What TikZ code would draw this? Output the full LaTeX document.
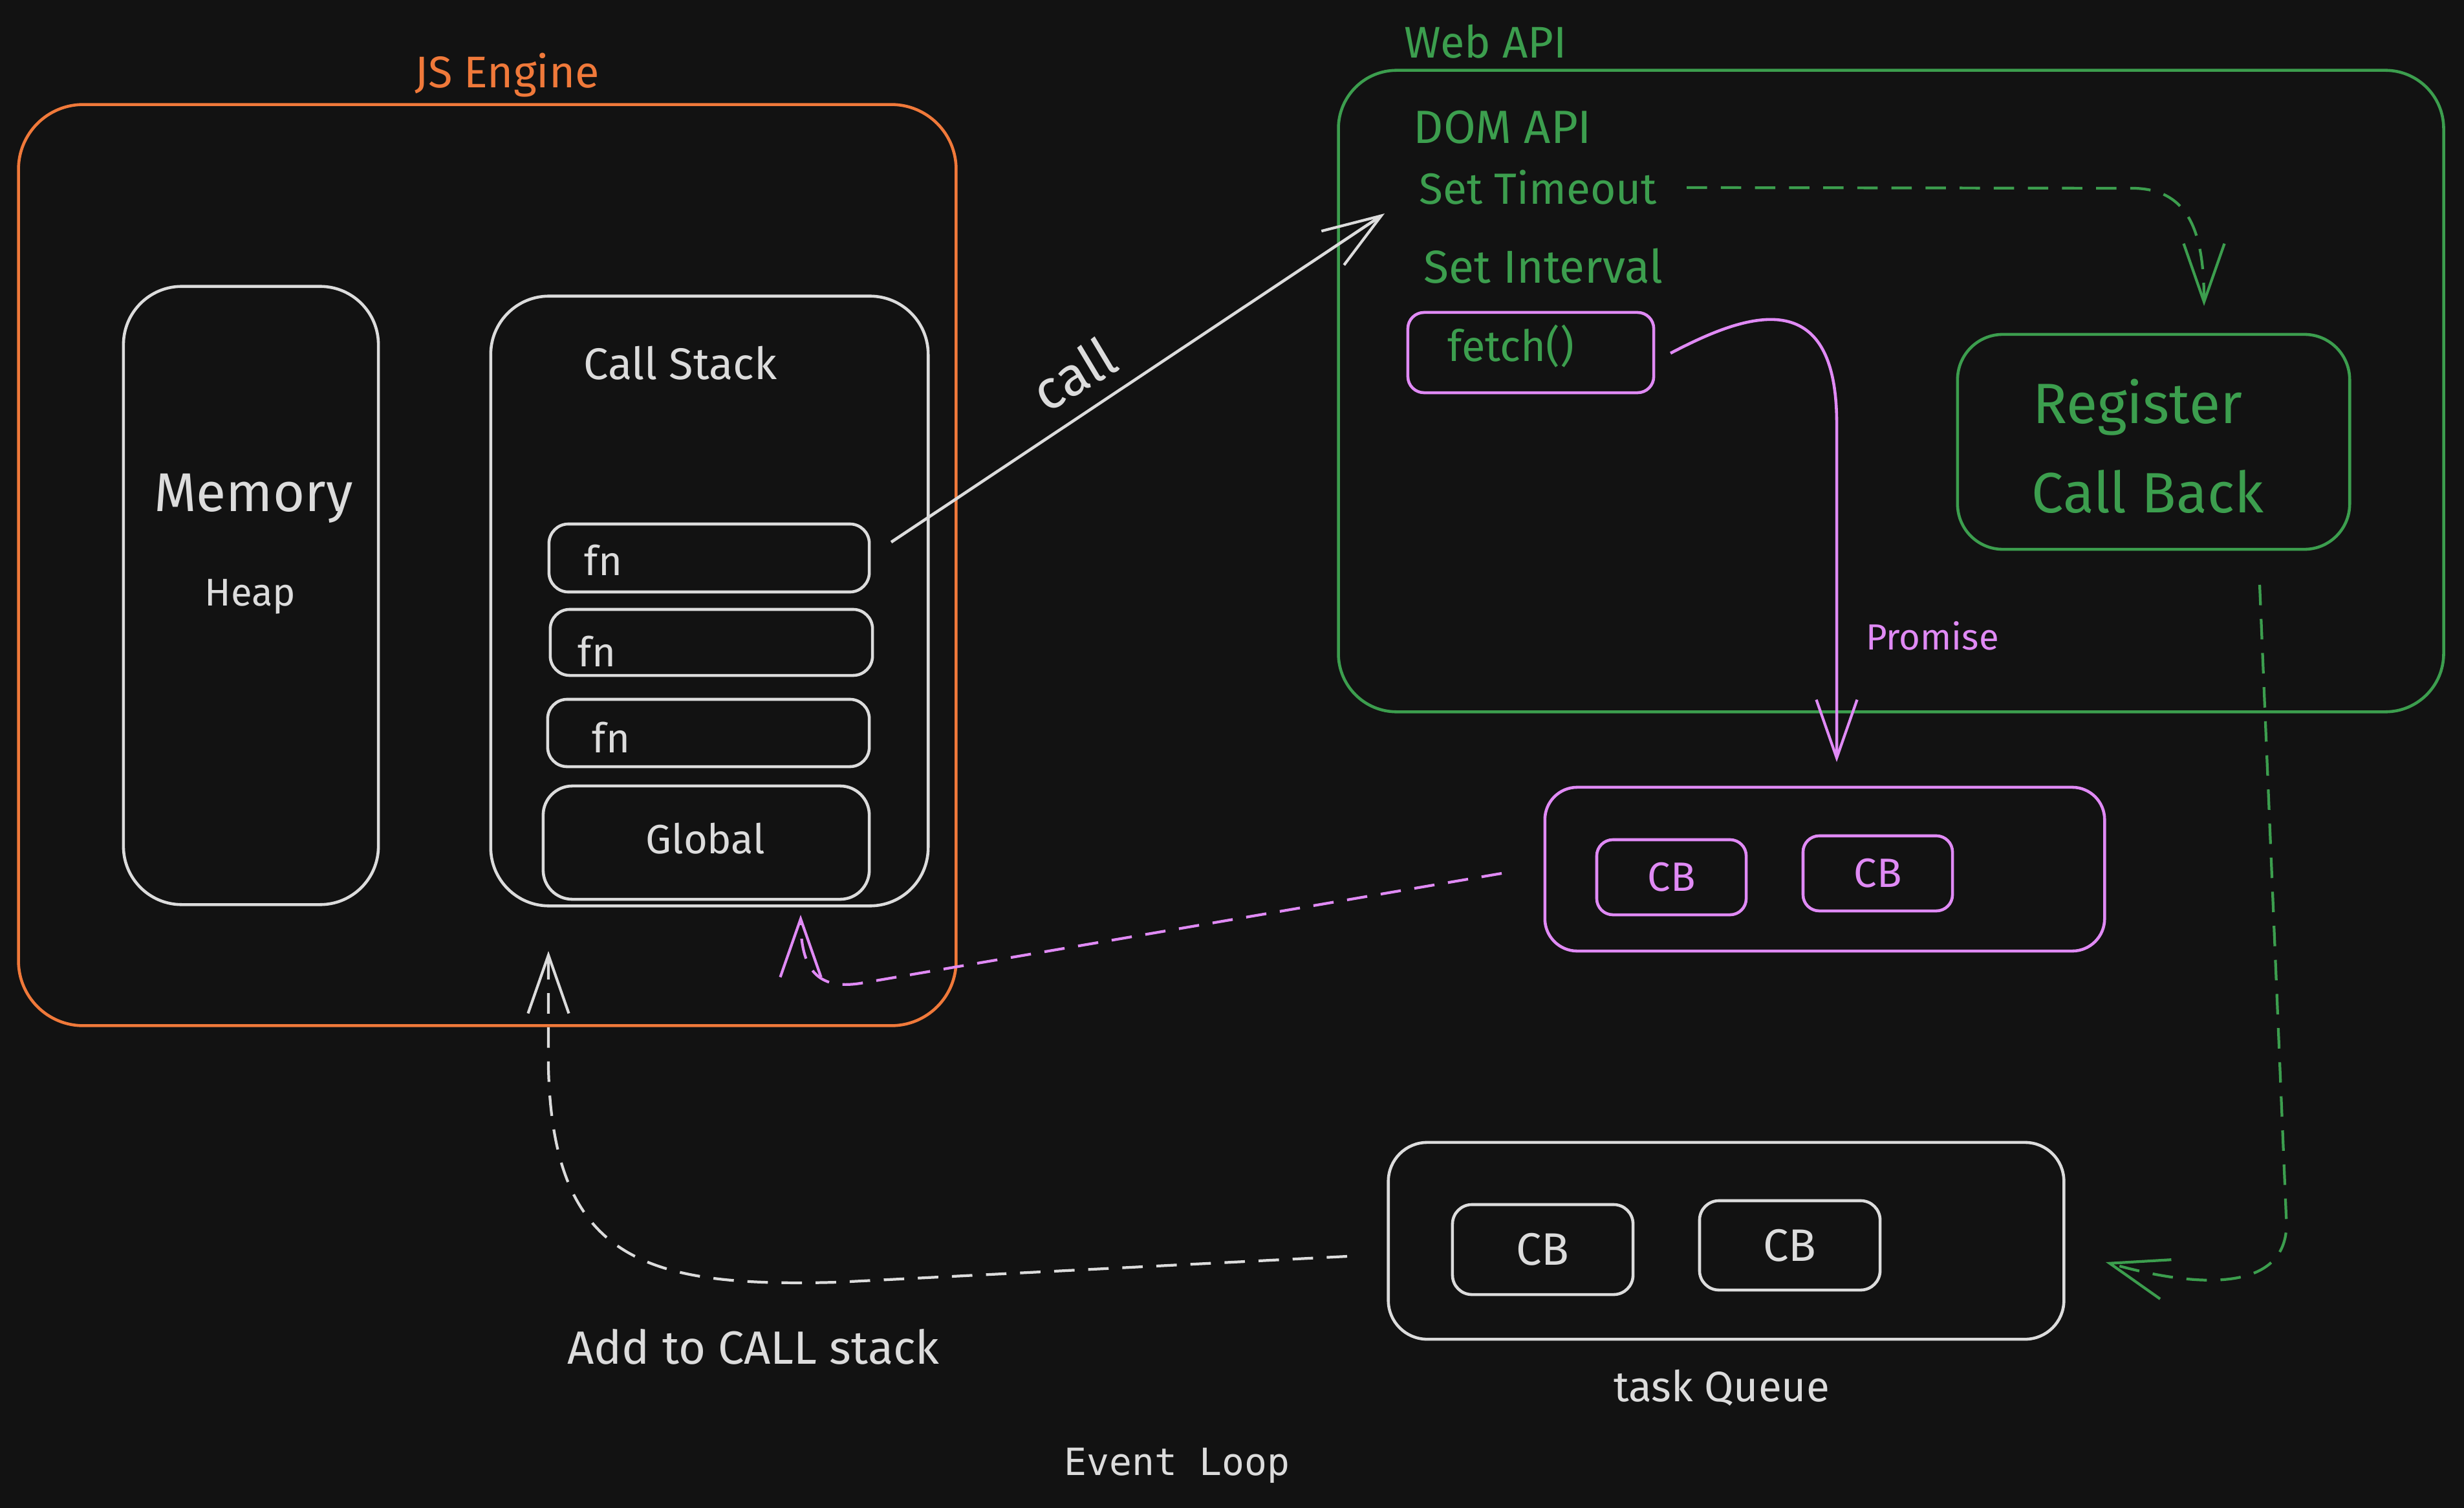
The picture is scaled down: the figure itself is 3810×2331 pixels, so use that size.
\documentclass[tikz,border=0pt]{standalone}
\usepackage{fontspec}
\setmainfont{Fira Sans}
\newfontfamily\monofnt{DejaVu Sans Mono}
\usetikzlibrary{arrows.meta}
\definecolor{bgc}{HTML}{121212}
\definecolor{wht}{HTML}{DCDCDC}
\definecolor{org}{HTML}{F0793A}
\definecolor{grn}{HTML}{3C9E4E}
\definecolor{pnk}{HTML}{E08AF5}
\tikzset{
  x={(0.01cm,0)}, y={(0,-0.01cm)},
  box/.style={draw, inner sep=0pt, line width=1.3pt},
  txt/.style={inner sep=0pt},
  barb/.style={-{Straight Barb[length=0.9cm,width=0.63cm,line width=1.2pt]}},
  dsh/.style={dash pattern=on 9pt off 6pt, line width=1.2pt},
}
\newcommand{\fs}[1]{\fontsize{#1}{#1}\selectfont}
\begin{document}
\begin{tikzpicture}
\fill[bgc] (0,0) rectangle (3810,2331);
\useasboundingbox (0,0) rectangle (3810,2331);

% JS Engine
\node[box, org, minimum width=14.49cm, minimum height=14.23cm, rounded corners=1cm] (jse) at (753.5,873.5) {};
\node[txt, org, font=\fs{19.5}] (jsel) at (784,116) {JS Engine};

% Memory
\node[box, wht, minimum width=3.94cm, minimum height=9.55cm, rounded corners=0.9cm] (mem) at (388,920.5) {};
\node[txt, wht, font=\fs{24}] (memt) at (392,770) {Memory};
\node[txt, wht, font=\fs{17}] (heap) at (387,922) {Heap};

% Call stack
\node[box, wht, minimum width=6.76cm, minimum height=9.42cm, rounded corners=0.9cm] (cs) at (1097,929) {};
\node[txt, wht, font=\fs{19.5}] (cst) at (1052,561) {Call Stack};
\node[box, wht, minimum width=4.95cm, minimum height=1.05cm, rounded corners=0.3cm] (fn1) at (1096.5,862.5) {};
\node[txt, wht, font=\fs{18}] (fn1t) at (933,866) {fn};
\node[box, wht, minimum width=4.98cm, minimum height=1.02cm, rounded corners=0.3cm] (fn2) at (1100,993) {};
\node[txt, wht, font=\fs{18}] (fn2t) at (923,1007) {fn};
\node[box, wht, minimum width=4.97cm, minimum height=1.04cm, rounded corners=0.3cm] (fn3) at (1095.5,1133) {};
\node[txt, wht, font=\fs{18}] (fn3t) at (945,1140) {fn};
\node[box, wht, minimum width=5.04cm, minimum height=1.75cm, rounded corners=0.45cm] (glob) at (1092,1302.5) {};
\node[txt, wht, font=\fs{18}] (globt) at (1091,1296) {Global};

% Web API
\node[box, grn, minimum width=17.08cm, minimum height=9.91cm, rounded corners=0.9cm] (web) at (2924,604.5) {};
\node[txt, grn, font=\fs{19.5}] (webl) at (2297,64) {Web API};
\node[txt, grn, font=\fs{20.5}, anchor=west] (dom) at (2185,197) {DOM API};
\node[txt, grn, font=\fs{19.2}, anchor=west] (sett) at (2194,290) {Set Timeout};
\node[txt, grn, font=\fs{20.3}, anchor=west] (seti) at (2201,411) {Set Interval};
\node[box, pnk, minimum width=3.80cm, minimum height=1.24cm, rounded corners=0.25cm] (fetch) at (2367,545) {};
\node[txt, grn, font=\fs{19}] (fetcht) at (2336,535) {fetch()};
\node[box, grn, minimum width=6.06cm, minimum height=3.32cm, rounded corners=0.7cm] (reg) at (3330,683) {};
\node[txt, grn, font=\fs{25}] (regt1) at (3305,630) {Register};
\node[txt, grn, font=\fs{25}] (regt2) at (3321,760) {Call Back};
\node[txt, pnk, font=\fs{16}] (prom) at (2988,983) {Promise};

% Promise queue
\node[box, pnk, minimum width=8.65cm, minimum height=2.53cm, rounded corners=0.5cm] (pq) at (2821.5,1343.5) {};
\node[box, pnk, minimum width=2.31cm, minimum height=1.16cm, rounded corners=0.25cm, font=\fs{18}] (pcb1) at (2584.5,1356) {CB};
\node[box, pnk, minimum width=2.31cm, minimum height=1.16cm, rounded corners=0.25cm, font=\fs{18}] (pcb2) at (2903.5,1350) {CB};

% Task queue
\node[box, wht, minimum width=10.44cm, minimum height=3.04cm, rounded corners=0.6cm] (tq) at (2669,1918) {};
\node[box, wht, minimum width=2.79cm, minimum height=1.39cm, rounded corners=0.3cm, font=\fs{20}] (tcb1) at (2385.5,1931.5) {CB};
\node[box, wht, minimum width=2.79cm, minimum height=1.38cm, rounded corners=0.3cm, font=\fs{20}] (tcb2) at (2767.5,1925) {CB};
\node[txt, wht, font=\fs{18.7}] (tql) at (2662,2145) {task Queue};
\node[txt, wht, font=\fs{20.5}] (addl) at (1165,2082) {Add to CALL stack};
\node[txt, wht, font=\monofnt\fs{16.5}] (evl) at (1820,2265) {Event Loop};

% call arrow
\coordinate (cA) at (1378,838);
\coordinate (cB) at (2141,330);
\draw[wht, line width=1.3pt, barb] (cA) -- (cB);
\node[txt, wht, font=\fs{24}, rotate=31] (callt) at (1660,578) {call};

% Set Timeout -> Register
\coordinate (tA) at (2608,290);
\coordinate (tB) at (3408,473);
\draw[grn, dsh, barb] (tA) -- (3300,291) .. controls (3385,293) and (3408,360) .. (tB);

% fetch -> promise queue
\coordinate (fA) at (2583,546);
\coordinate (fB) at (2840,1178);
\draw[pnk, line width=1.3pt, barb] (fA) .. controls (2690,490) and (2838,430) .. (2840,650) -- (fB);

% Register -> task queue
\coordinate (rA) at (3494,904);
\coordinate (rB) at (3256,1951);
\draw[grn, dsh, barb] (rA) -- (3535,1880) .. controls (3545,1995) and (3410,1995) .. (rB);

% promise queue -> call stack
\coordinate (pA) at (2322,1350);
\coordinate (pB) at (1238,1414);
\draw[pnk, dsh, barb] (pA) -- (1330,1520) .. controls (1265,1530) and (1238,1500) .. (pB);

% task queue -> call stack
\coordinate (qA) at (2083,1942);
\coordinate (qB) at (848,1470);
\draw[wht, dsh, barb] (qA) -- (1294,1982) .. controls (1000,1990) and (855,1950) .. (848,1650) -- (qB);
\end{tikzpicture}
\end{document}
